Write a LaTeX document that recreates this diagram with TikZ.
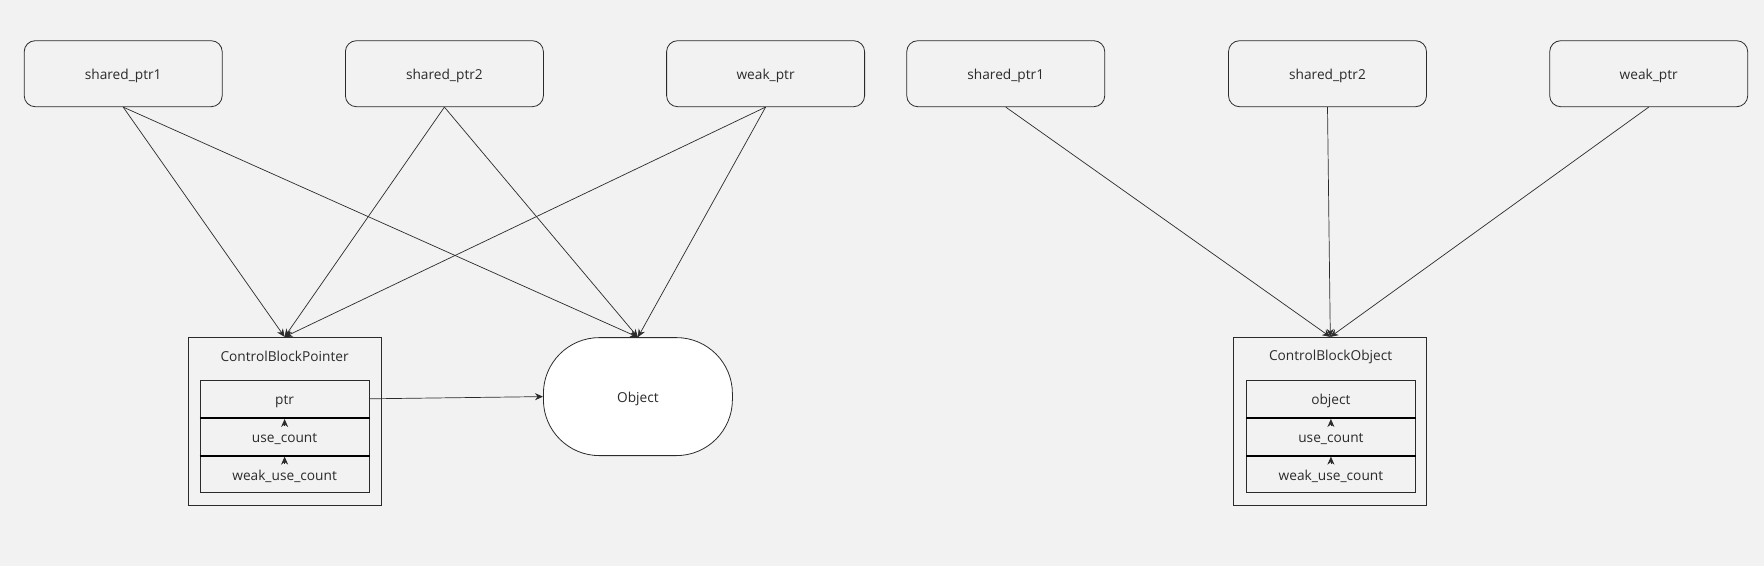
\documentclass[tikz,border=0pt]{standalone}
\usepackage{fontspec}
\setmainfont{Open Sans}
\usetikzlibrary{arrows.meta}
\definecolor{bg}{HTML}{F2F2F2}
\definecolor{ink}{HTML}{2B2B2B}
\newcommand{\lbl}[1]{\raisebox{-2.4pt}[\height][\depth]{#1}}
\begin{document}
\begin{tikzpicture}[x=1pt,y=-1pt,
  every node/.style={text=ink,font=\fontsize{13.7}{15}\selectfont},
  ptrbox/.style={draw=ink,line width=0.8pt,rounded corners=11pt,minimum width=198pt,minimum height=66pt,inner sep=0pt},
  outerbox/.style={draw=ink,line width=0.8pt,minimum width=193pt,minimum height=168pt,inner sep=0pt},
  rowbox/.style={draw=ink,line width=0.8pt,minimum width=169pt,minimum height=37.6pt,inner sep=0pt},
  objbox/.style={draw=ink,fill=white,line width=0.8pt,rounded corners=56pt,minimum width=189pt,minimum height=118pt,inner sep=0pt},
  conn/.style={draw=ink,line width=0.7pt,-{Stealth[length=8pt,width=7pt]}},
  sep/.style={draw=black,line width=1.8pt}
]
\fill[bg] (0,0) rectangle (1764,566);
\useasboundingbox (0,0) rectangle (1764,566);

% left group
\node[ptrbox] (s1L) at (123.2,73.7) {\lbl{shared\_ptr1}};
\node[ptrbox] (s2L) at (444.4,73.7) {\lbl{shared\_ptr2}};
\node[ptrbox] (wL)  at (765.6,73.7) {\lbl{weak\_ptr}};

\node[outerbox] (cbp) at (284.6,421.3) {};
\node (cbpl) at (284.6,354.4) {\lbl{ControlBlockPointer}};
\node[rowbox] (ptr) at (284.6,398.8) {\lbl{ptr}};
\node[rowbox] (ucL) at (284.6,436.4) {\lbl{use\_count}};
\node[rowbox] (wucL) at (284.6,474.0) {\lbl{weak\_use\_count}};
\draw[sep] (ptr.south west) -- (ptr.south east);
\draw[sep] (ucL.south west) -- (ucL.south east);

\node[objbox] (obj) at (637.9,396.6) {\lbl{Object}};

\draw[conn] (s1L.south) -- (cbp.north);
\draw[conn] (s1L.south) -- (obj.north);
\draw[conn] (s2L.south) -- (cbp.north);
\draw[conn] (s2L.south) -- (obj.north);
\draw[conn] (wL.south) -- (cbp.north);
\draw[conn] (wL.south) -- (obj.north);
\draw[conn] (ptr.east) -- (obj.west);
\draw[conn] ([yshift=-9pt]ucL.north) -- ([yshift=-1pt]ptr.south);
\draw[conn] ([yshift=-9pt]wucL.north) -- ([yshift=-1pt]ucL.south);

% right group
\node[ptrbox] (s1R) at (1005.75,73.7) {\lbl{shared\_ptr1}};
\node[ptrbox] (s2R) at (1327.5,73.7) {\lbl{shared\_ptr2}};
\node[ptrbox] (wR)  at (1648.7,73.7) {\lbl{weak\_ptr}};

\node[outerbox] (cbo) at (1330.3,421.3) {};
\node (cbol) at (1330.6,354.4) {\lbl{ControlBlockObject}};
\node[rowbox] (objr) at (1330.9,398.8) {\lbl{object}};
\node[rowbox] (ucR) at (1330.9,436.4) {\lbl{use\_count}};
\node[rowbox] (wucR) at (1330.9,474.0) {\lbl{weak\_use\_count}};
\draw[sep] (objr.south west) -- (objr.south east);
\draw[sep] (ucR.south west) -- (ucR.south east);
\draw[conn] ([yshift=-9pt]ucR.north) -- ([yshift=-1pt]objr.south);
\draw[conn] ([yshift=-9pt]wucR.north) -- ([yshift=-1pt]ucR.south);

\draw[conn] (s1R.south) -- (cbo.north);
\draw[conn] (s2R.south) -- (cbo.north);
\draw[conn] (wR.south) -- (cbo.north);
\end{tikzpicture}
\end{document}
